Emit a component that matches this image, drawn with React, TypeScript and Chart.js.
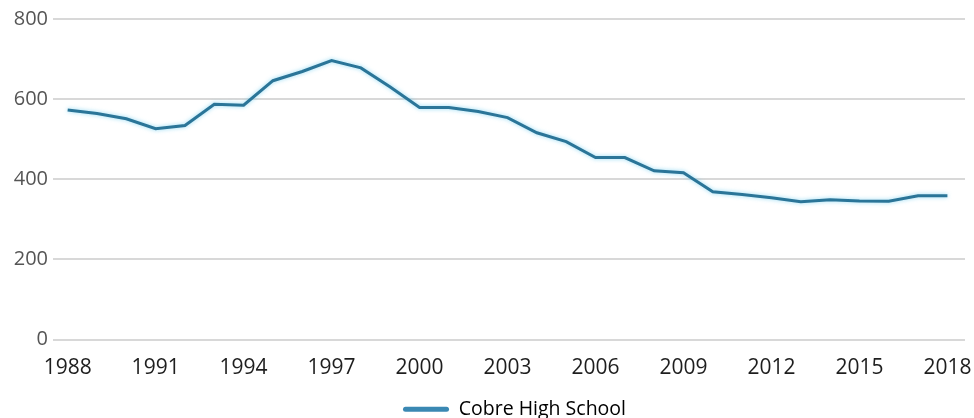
import React, { useEffect, useRef } from "react";
import { Chart, registerables } from "chart.js";

Chart.register(...registerables);

// Enrollment per school year
const years = [
  1988, 1989, 1990, 1991, 1992, 1993, 1994, 1995, 1996, 1997, 1998, 1999, 2000,
  2001, 2002, 2003, 2004, 2005, 2006, 2007, 2008, 2009, 2010, 2011, 2012, 2013,
  2014, 2015, 2016, 2017, 2018,
];
const enrollment = [
  573, 564, 551, 526, 534, 587, 585, 646, 669, 696, 678, 630, 579, 579, 569,
  554, 516, 494, 454, 454, 421, 416, 369, 362, 354, 344, 349, 346, 345, 359,
  359,
];
const xTickYears = [1988, 1991, 1994, 1997, 2000, 2003, 2006, 2009, 2012, 2015, 2018];
const yTickValues = [0, 200, 400, 600, 800];
const seriesName = "Cobre High School";
const lineColor = "#2b7598";
const legendColor = "#3a88b3";

// Soft cyan halo behind the line
const glowPlugin = {
  id: "lineGlow",
  beforeDatasetsDraw(chart: any) {
    const ctx = chart.ctx;
    ctx.save();
    ctx.shadowColor = "rgba(110, 205, 240, 0.75)";
    ctx.shadowBlur = 4;
  },
  afterDatasetsDraw(chart: any) {
    chart.ctx.restore();
  },
};

// Nudge the legend a little right of the canvas centre
const legendShift = {
  id: "legendShift",
  afterLayout(chart: any) {
    const lg = chart.legend;
    if (lg) {
      lg.left += 32;
      lg.right += 32;
    }
  },
};

export default function App() {
  const canvasRef = useRef<HTMLCanvasElement | null>(null);

  useEffect(() => {
    document.body.style.margin = "0";
    const canvas = canvasRef.current;
    if (!canvas) return;

    const chart = new Chart(canvas, {
      type: "line",
      data: {
        datasets: [
          {
            label: seriesName,
            data: years.map((y, i) => ({ x: y, y: enrollment[i] })),
            borderColor: lineColor,
            backgroundColor: lineColor,
            borderWidth: 3,
            pointRadius: 0,
            tension: 0,
            fill: false,
          },
        ],
      },
      options: {
        responsive: false,
        animation: false,
        layout: { padding: { top: 19, right: 9, left: 0, bottom: -11 } },
        plugins: {
          tooltip: { enabled: false },
          legend: {
            position: "bottom",
            labels: {
              boxWidth: 46,
              boxHeight: 5,
              padding: 0,
              useBorderRadius: true,
              borderRadius: 2.5,
              color: "#222",
              font: { family: "Open Sans", size: 19.5, lineHeight: 1 },
              generateLabels: () => [
                {
                  text: seriesName,
                  fillStyle: legendColor,
                  strokeStyle: legendColor,
                  lineWidth: 0,
                  hidden: false,
                  datasetIndex: 0,
                  borderRadius: 2.5,
                },
              ],
            },
          },
        },
        scales: {
          x: {
            type: "linear",
            min: 1987.5,
            max: 2018.6,
            afterBuildTicks: (scale: any) => {
              scale.ticks = xTickYears.map((v) => ({ value: v }));
            },
            afterFit: (scale: any) => {
              scale.height = 60;
              scale.paddingLeft = 0;
              scale.paddingRight = 0;
            },
            grid: { display: false },
            border: { display: false },
            ticks: {
              autoSkip: false,
              maxRotation: 0,
              padding: 8,
              color: "#1e1e1e",
              font: { family: "Open Sans", size: 21 },
              callback: (v: any) => String(v),
            },
          },
          y: {
            min: 0,
            max: 800,
            afterBuildTicks: (scale: any) => {
              scale.ticks = yTickValues.map((v) => ({ value: v }));
            },
            afterFit: (scale: any) => {
              scale.width = 53;
            },
            grid: { color: "#d8d8d8", lineWidth: 2, drawTicks: false },
            border: { display: false },
            ticks: {
              padding: 5,
              color: "#555",
              font: { family: "Open Sans", size: 20 },
              callback: (v: any) => String(v),
            },
          },
        },
      },
      plugins: [glowPlugin, legendShift],
    });

    return () => chart.destroy();
  }, []);

  return (
    <div style={{ width: 974, height: 418 }}>
      <canvas ref={canvasRef} width={974} height={418} />
    </div>
  );
}
